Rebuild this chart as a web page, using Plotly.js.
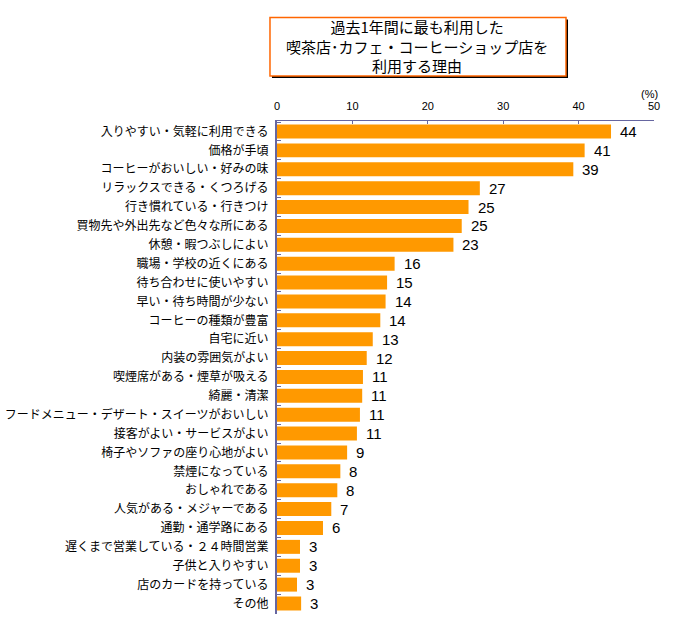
<!DOCTYPE html>
<html>
<head>
<meta charset="utf-8">
<script src="https://cdn.plot.ly/plotly-3.0.1.min.js"></script>
<style>body{margin:0;padding:0;background:#fff;}#chart{width:674px;height:618px;}</style>
</head>
<body>
<div id="chart"></div>
<script>
const categories = [
  "入りやすい・気軽に利用できる",
  "価格が手頃",
  "コーヒーがおいしい・好みの味",
  "リラックスできる・くつろげる",
  "行き慣れている・行きつけ",
  "買物先や外出先など色々な所にある",
  "休憩・暇つぶしによい",
  "職場・学校の近くにある",
  "待ち合わせに使いやすい",
  "早い・待ち時間が少ない",
  "コーヒーの種類が豊富",
  "自宅に近い",
  "内装の雰囲気がよい",
  "喫煙席がある・煙草が吸える",
  "綺麗・清潔",
  "フードメニュー・デザート・スイーツがおいしい",
  "接客がよい・サービスがよい",
  "椅子やソファの座り心地がよい",
  "禁煙になっている",
  "おしゃれである",
  "人気がある・メジャーである",
  "通勤・通学路にある",
  "遅くまで営業している・２４時間営業",
  "子供と入りやすい",
  "店のカードを持っている",
  "その他"
];
const values = [44.3, 40.8, 39.3, 26.9, 25.4, 24.5, 23.4, 15.6, 14.6, 14.4, 13.7, 12.7, 11.9, 11.4, 11.3, 11.0, 10.6, 9.3, 8.4, 8.0, 7.2, 6.1, 3.05, 3.05, 2.65, 3.2];
const valueLabels = ["44","41","39","27","25","25","23","16","15","14","14","13","12","11","11","11","11","9","8","8","7","6","3","3","3","3"];
const xTicks = [0, 10, 20, 30, 40, 50];

const titleText = "過去1年間に最も利用した<br>喫茶店･カフェ・コーヒーショップ店を<br>利用する理由";

const fontFam = '"Noto Sans CJK JP", "Noto Sans", sans-serif';
const numFam = '"Liberation Sans", Arial, sans-serif';

const trace = {
  type: 'bar',
  orientation: 'h',
  y: categories,
  x: values,
  marker: {color: '#FF9900', line: {width: 0}},
  hoverinfo: 'none'
};

const annotations = categories.map((c, i) => ({
  x: values[i], y: c, xref: 'x', yref: 'y',
  text: valueLabels[i], showarrow: false,
  xanchor: 'left', yanchor: 'middle', xshift: 7,
  font: {family: numFam, size: 15, color: '#000'}
}));

annotations.push({
  x: 0.371, y: 1.153, xref: 'paper', yref: 'paper',
  text: titleText, showarrow: false, xanchor: 'center', yanchor: 'middle',
  font: {family: fontFam, size: 15, color: '#000'}
});
annotations.push({
  x: 0.989, y: 1.0547, xref: 'paper', yref: 'paper',
  text: '(%)', showarrow: false, xanchor: 'center', yanchor: 'middle',
  font: {family: numFam, size: 11, color: '#000'}
});

const layout = {
  width: 674, height: 618,
  margin: {l: 277, r: 20, t: 121, b: 4, pad: 0},
  paper_bgcolor: '#fff', plot_bgcolor: '#fff',
  showlegend: false,
  bargap: 0.26,
  xaxis: {
    side: 'top', range: [0, 50], tickvals: xTicks,
    showgrid: false, zeroline: false,
    showline: true, linecolor: '#6666a0', linewidth: 1,
    ticks: 'inside', ticklen: 3, tickcolor: '#6666a0',
    tickfont: {family: numFam, size: 11, color: '#000'},
    ticklabelstandoff: 6,
    fixedrange: true
  },
  yaxis: {
    type: 'category', autorange: 'reversed',
    showgrid: false, zeroline: false,
    showline: true, linecolor: '#6666a0', linewidth: 2,
    ticks: 'inside', ticklen: 4, tickcolor: '#6666a0', tickson: 'boundaries',
    tickfont: {family: fontFam, size: 12, color: '#000'},
    ticklabelstandoff: 4,
    fixedrange: true
  },
  shapes: [
    {type: 'rect', xref: 'paper', yref: 'paper', x0: -0.0133, x1: 0.7719, y0: 1.0871, y1: 1.2061,
     fillcolor: '#000', line: {width: 0}, layer: 'above'},
    {type: 'rect', xref: 'paper', yref: 'paper', x0: -0.0186, x1: 0.7666, y0: 1.0912, y1: 1.2101,
     fillcolor: '#fff', line: {color: '#FF6600', width: 1.5}, layer: 'above'}
  ],
  annotations: annotations
};

Plotly.newPlot('chart', [trace], layout, {displayModeBar: false, staticPlot: true});
</script>
</body>
</html>
